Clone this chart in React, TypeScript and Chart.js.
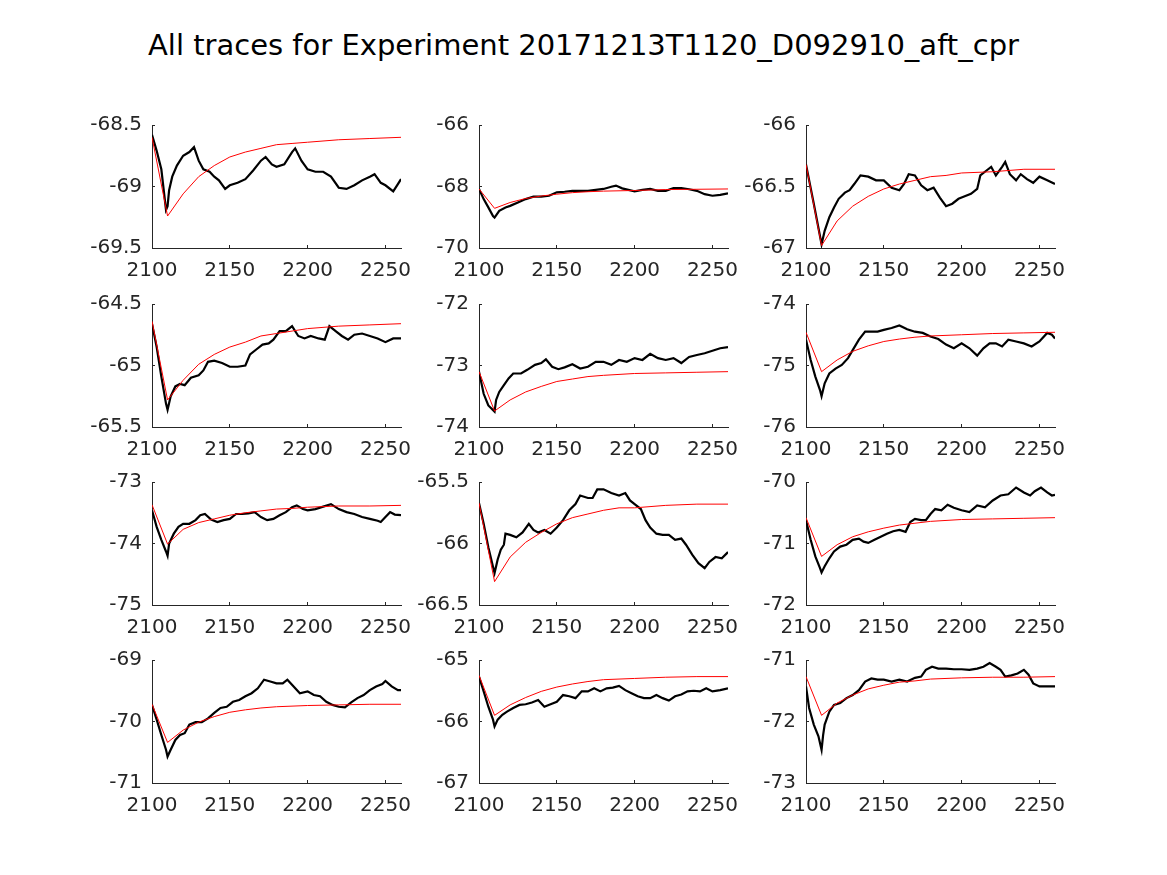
import React, { useEffect, useRef } from "react";
import { Chart, registerables } from "chart.js";

Chart.register(...registerables);
Chart.defaults.font.family = "'DejaVu Sans', sans-serif";

const TITLE = "All traces for Experiment 20171213T1120_D092910_aft_cpr";

const xTicks = [2100, 2150, 2200, 2250];
const xMin = 2100;
const xMax = 2260;

const yTicks1 = [-69.5, -69, -68.5];
const yTicks2 = [-70, -68, -66];
const yTicks3 = [-67, -66.5, -66];
const yTicks4 = [-65.5, -65, -64.5];
const yTicks5 = [-74, -73, -72];
const yTicks6 = [-76, -75, -74];
const yTicks7 = [-75, -74, -73];
const yTicks8 = [-66.5, -66, -65.5];
const yTicks9 = [-72, -71, -70];
const yTicks10 = [-71, -70, -69];
const yTicks11 = [-67, -66, -65];
const yTicks12 = [-73, -72, -71];

type P = [number, number];

const trace1: P[] = [[2100,-68.58],[2103,-68.71],[2106,-68.86],[2109,-69.19],[2110,-69.16],[2111,-69.03],[2113,-68.92],[2116,-68.83],[2120,-68.75],[2124,-68.72],[2127,-68.68],[2130,-68.79],[2133,-68.86],[2137,-68.88],[2140,-68.92],[2143,-68.95],[2147,-69.02],[2150,-68.99],[2155,-68.97],[2160,-68.94],[2165,-68.87],[2170,-68.79],[2173,-68.76],[2177,-68.82],[2180,-68.84],[2185,-68.82],[2190,-68.72],[2192,-68.69],[2196,-68.79],[2200,-68.86],[2205,-68.88],[2210,-68.88],[2215,-68.92],[2220,-69.01],[2225,-69.02],[2230,-68.99],[2235,-68.95],[2240,-68.92],[2243,-68.90],[2247,-68.97],[2250,-68.99],[2255,-69.04],[2258,-68.98],[2260,-68.94]];
const fit1: P[] = [[2100,-68.6],[2110,-69.24],[2120,-69.06],[2130,-68.92],[2140,-68.83],[2150,-68.76],[2160,-68.72],[2170,-68.69],[2180,-68.66],[2190,-68.65],[2200,-68.64],[2220,-68.62],[2240,-68.61],[2260,-68.6]];

const trace2: P[] = [[2100,-68.08],[2103,-68.41],[2106,-68.68],[2109,-68.96],[2110,-69.01],[2113,-68.79],[2117,-68.68],[2120,-68.63],[2125,-68.52],[2130,-68.41],[2135,-68.33],[2140,-68.33],[2145,-68.30],[2150,-68.19],[2155,-68.17],[2160,-68.14],[2170,-68.14],[2180,-68.08],[2185,-68.01],[2188,-67.97],[2192,-68.06],[2200,-68.16],[2205,-68.11],[2210,-68.08],[2215,-68.14],[2220,-68.14],[2225,-68.05],[2230,-68.05],[2235,-68.09],[2240,-68.14],[2245,-68.25],[2250,-68.30],[2255,-68.27],[2260,-68.22]];
const fit2: P[] = [[2100,-68.08],[2110,-68.71],[2120,-68.52],[2130,-68.39],[2140,-68.31],[2150,-68.25],[2160,-68.2],[2170,-68.17],[2180,-68.15],[2200,-68.13],[2220,-68.1],[2240,-68.09],[2260,-68.08]];

const trace3: P[] = [[2100,-66.32],[2105,-66.64],[2110,-66.97],[2112,-66.86],[2115,-66.75],[2118,-66.67],[2121,-66.60],[2125,-66.55],[2128,-66.53],[2131,-66.48],[2135,-66.41],[2140,-66.42],[2145,-66.45],[2150,-66.45],[2155,-66.51],[2160,-66.53],[2163,-66.48],[2166,-66.40],[2170,-66.41],[2174,-66.49],[2178,-66.53],[2182,-66.51],[2186,-66.59],[2190,-66.66],[2194,-66.64],[2198,-66.60],[2202,-66.58],[2206,-66.56],[2210,-66.52],[2212,-66.41],[2216,-66.37],[2219,-66.34],[2222,-66.41],[2226,-66.34],[2228,-66.30],[2231,-66.40],[2235,-66.45],[2238,-66.40],[2242,-66.44],[2246,-66.47],[2250,-66.42],[2255,-66.45],[2260,-66.48]];
const fit3: P[] = [[2100,-66.32],[2110,-66.98],[2120,-66.78],[2130,-66.66],[2140,-66.58],[2150,-66.52],[2160,-66.48],[2170,-66.45],[2180,-66.42],[2190,-66.41],[2200,-66.39],[2220,-66.38],[2240,-66.36],[2260,-66.36]];

const trace4: P[] = [[2100,-64.66],[2103,-64.85],[2106,-65.09],[2109,-65.31],[2110,-65.36],[2112,-65.25],[2115,-65.17],[2118,-65.15],[2121,-65.16],[2125,-65.10],[2130,-65.08],[2133,-65.04],[2136,-64.97],[2140,-64.96],[2145,-64.98],[2150,-65.01],[2155,-65.01],[2160,-65.00],[2163,-64.91],[2167,-64.87],[2171,-64.83],[2175,-64.82],[2178,-64.79],[2182,-64.72],[2186,-64.72],[2190,-64.68],[2194,-64.76],[2198,-64.78],[2202,-64.76],[2207,-64.78],[2211,-64.79],[2214,-64.68],[2218,-64.72],[2222,-64.76],[2226,-64.79],[2230,-64.75],[2235,-64.74],[2240,-64.76],[2245,-64.78],[2250,-64.81],[2255,-64.78],[2260,-64.78]];
const fit4: P[] = [[2100,-64.64],[2110,-65.28],[2120,-65.12],[2130,-64.99],[2140,-64.91],[2150,-64.85],[2160,-64.81],[2170,-64.76],[2180,-64.74],[2190,-64.72],[2200,-64.7],[2220,-64.68],[2240,-64.67],[2260,-64.66]];

const trace5: P[] = [[2100,-73.10],[2103,-73.46],[2106,-73.65],[2110,-73.75],[2111,-73.56],[2113,-73.43],[2116,-73.32],[2119,-73.21],[2122,-73.13],[2127,-73.13],[2131,-73.07],[2136,-72.99],[2140,-72.96],[2143,-72.90],[2147,-73.02],[2151,-73.06],[2155,-73.03],[2160,-72.98],[2165,-73.05],[2170,-73.02],[2175,-72.94],[2180,-72.94],[2185,-72.99],[2190,-72.91],[2195,-72.94],[2200,-72.88],[2205,-72.91],[2210,-72.81],[2215,-72.88],[2220,-72.91],[2225,-72.88],[2230,-72.96],[2235,-72.86],[2240,-72.83],[2245,-72.80],[2250,-72.76],[2255,-72.72],[2260,-72.70]];
const fit5: P[] = [[2100,-73.1],[2110,-73.74],[2120,-73.56],[2130,-73.43],[2140,-73.34],[2150,-73.26],[2160,-73.22],[2170,-73.18],[2180,-73.16],[2200,-73.13],[2220,-73.12],[2240,-73.11],[2260,-73.1]];

const trace6: P[] = [[2100,-74.58],[2103,-74.91],[2106,-75.18],[2109,-75.40],[2110,-75.50],[2112,-75.29],[2115,-75.13],[2119,-75.05],[2123,-74.99],[2127,-74.88],[2130,-74.75],[2134,-74.58],[2138,-74.45],[2142,-74.45],[2146,-74.45],[2150,-74.42],[2155,-74.39],[2160,-74.35],[2165,-74.41],[2170,-74.45],[2175,-74.47],[2180,-74.53],[2185,-74.57],[2190,-74.66],[2195,-74.72],[2200,-74.64],[2205,-74.72],[2210,-74.84],[2214,-74.72],[2218,-74.64],[2222,-74.64],[2226,-74.69],[2230,-74.58],[2235,-74.61],[2240,-74.64],[2245,-74.69],[2250,-74.61],[2255,-74.47],[2258,-74.50],[2260,-74.56]];
const fit6: P[] = [[2100,-74.46],[2110,-75.1],[2120,-74.91],[2130,-74.77],[2140,-74.68],[2150,-74.61],[2160,-74.57],[2170,-74.54],[2180,-74.52],[2200,-74.5],[2220,-74.48],[2240,-74.47],[2260,-74.46]];

const trace7: P[] = [[2100,-73.46],[2103,-73.73],[2106,-73.94],[2109,-74.13],[2110,-74.20],[2111,-74.00],[2114,-73.84],[2117,-73.73],[2120,-73.68],[2124,-73.68],[2128,-73.62],[2131,-73.54],[2134,-73.52],[2138,-73.61],[2142,-73.65],[2146,-73.62],[2150,-73.60],[2154,-73.52],[2158,-73.52],[2162,-73.51],[2166,-73.49],[2170,-73.57],[2174,-73.62],[2178,-73.60],[2182,-73.54],[2186,-73.49],[2190,-73.41],[2193,-73.38],[2197,-73.44],[2200,-73.46],[2205,-73.44],[2210,-73.40],[2215,-73.36],[2220,-73.44],[2225,-73.49],[2230,-73.52],[2235,-73.57],[2240,-73.60],[2245,-73.63],[2247,-73.65],[2250,-73.57],[2253,-73.49],[2256,-73.53],[2260,-73.54]];
const fit7: P[] = [[2100,-73.37],[2110,-74.01],[2120,-73.77],[2130,-73.66],[2140,-73.6],[2150,-73.54],[2160,-73.5],[2170,-73.47],[2180,-73.44],[2190,-73.43],[2200,-73.41],[2220,-73.39],[2240,-73.39],[2260,-73.38]];

const trace8: P[] = [[2100,-65.67],[2103,-65.84],[2106,-66.03],[2109,-66.19],[2110,-66.24],[2112,-66.13],[2114,-66.05],[2116,-66.01],[2117,-65.92],[2120,-65.93],[2124,-65.95],[2128,-65.91],[2132,-65.84],[2135,-65.89],[2138,-65.91],[2142,-65.89],[2146,-65.92],[2150,-65.87],[2154,-65.81],[2158,-65.73],[2162,-65.68],[2165,-65.61],[2170,-65.63],[2173,-65.63],[2176,-65.56],[2180,-65.56],[2185,-65.59],[2190,-65.61],[2194,-65.59],[2197,-65.65],[2200,-65.68],[2204,-65.72],[2207,-65.81],[2210,-65.87],[2214,-65.92],[2218,-65.93],[2222,-65.93],[2226,-65.97],[2230,-65.96],[2233,-66.01],[2237,-66.09],[2241,-66.16],[2245,-66.20],[2248,-66.15],[2252,-66.11],[2256,-66.12],[2260,-66.07]];
const fit8: P[] = [[2100,-65.67],[2110,-66.31],[2120,-66.11],[2130,-65.99],[2140,-65.91],[2150,-65.84],[2160,-65.79],[2170,-65.76],[2180,-65.73],[2190,-65.71],[2200,-65.71],[2220,-65.69],[2240,-65.68],[2260,-65.68]];

const trace9: P[] = [[2100,-70.62],[2103,-70.94],[2106,-71.21],[2109,-71.40],[2110,-71.47],[2112,-71.37],[2115,-71.24],[2118,-71.13],[2122,-71.05],[2126,-71.02],[2130,-70.94],[2134,-70.92],[2137,-70.97],[2140,-70.99],[2144,-70.94],[2148,-70.89],[2152,-70.84],[2156,-70.80],[2160,-70.78],[2164,-70.81],[2167,-70.65],[2170,-70.60],[2174,-70.62],[2177,-70.62],[2180,-70.52],[2183,-70.44],[2187,-70.46],[2191,-70.37],[2195,-70.42],[2200,-70.46],[2205,-70.49],[2210,-70.38],[2215,-70.41],[2220,-70.30],[2225,-70.22],[2230,-70.20],[2235,-70.09],[2240,-70.17],[2244,-70.22],[2247,-70.15],[2251,-70.09],[2255,-70.17],[2258,-70.22],[2260,-70.21]];
const fit9: P[] = [[2100,-70.58],[2110,-71.21],[2120,-71.02],[2130,-70.89],[2140,-70.81],[2150,-70.75],[2160,-70.7],[2170,-70.67],[2180,-70.64],[2200,-70.61],[2220,-70.6],[2240,-70.59],[2260,-70.58]];

const trace10: P[] = [[2100,-69.73],[2103,-69.97],[2106,-70.22],[2109,-70.46],[2110,-70.57],[2112,-70.46],[2115,-70.30],[2118,-70.22],[2121,-70.19],[2124,-70.05],[2128,-70.01],[2132,-70.01],[2136,-69.95],[2140,-69.86],[2144,-69.78],[2148,-69.76],[2152,-69.68],[2156,-69.65],[2160,-69.59],[2164,-69.54],[2168,-69.46],[2172,-69.32],[2176,-69.35],[2180,-69.38],[2184,-69.38],[2187,-69.32],[2191,-69.43],[2195,-69.54],[2200,-69.51],[2204,-69.57],[2208,-69.59],[2212,-69.68],[2216,-69.73],[2220,-69.76],[2224,-69.77],[2228,-69.69],[2232,-69.62],[2236,-69.57],[2240,-69.49],[2244,-69.43],[2248,-69.39],[2250,-69.34],[2254,-69.43],[2258,-69.49],[2260,-69.49]];
const fit10: P[] = [[2100,-69.72],[2110,-70.34],[2120,-70.14],[2130,-70.01],[2140,-69.92],[2150,-69.85],[2160,-69.81],[2170,-69.78],[2180,-69.76],[2200,-69.74],[2220,-69.73],[2240,-69.72],[2260,-69.72]];

const trace11: P[] = [[2100,-65.27],[2103,-65.51],[2106,-65.76],[2109,-65.97],[2110,-66.08],[2112,-65.97],[2115,-65.89],[2118,-65.84],[2122,-65.78],[2126,-65.73],[2130,-65.72],[2134,-65.69],[2138,-65.65],[2142,-65.76],[2146,-65.72],[2150,-65.68],[2154,-65.57],[2158,-65.59],[2162,-65.62],[2166,-65.51],[2170,-65.51],[2174,-65.46],[2178,-65.51],[2182,-65.46],[2186,-65.45],[2190,-65.42],[2194,-65.49],[2198,-65.54],[2202,-65.59],[2206,-65.62],[2210,-65.62],[2214,-65.57],[2218,-65.62],[2222,-65.66],[2226,-65.59],[2230,-65.56],[2234,-65.51],[2238,-65.50],[2242,-65.51],[2246,-65.46],[2250,-65.51],[2255,-65.49],[2260,-65.46]];
const fit11: P[] = [[2100,-65.25],[2110,-65.9],[2120,-65.73],[2130,-65.61],[2140,-65.51],[2150,-65.44],[2160,-65.39],[2170,-65.35],[2180,-65.32],[2200,-65.3],[2220,-65.28],[2240,-65.27],[2260,-65.27]];

const trace12: P[] = [[2100,-71.43],[2102,-71.78],[2105,-72.05],[2108,-72.24],[2110,-72.46],[2111,-72.22],[2112,-72.05],[2115,-71.84],[2118,-71.73],[2122,-71.70],[2126,-71.62],[2130,-71.57],[2134,-71.49],[2138,-71.35],[2142,-71.30],[2146,-71.32],[2150,-71.32],[2155,-71.35],[2160,-71.32],[2165,-71.35],[2170,-71.29],[2174,-71.27],[2177,-71.16],[2181,-71.11],[2185,-71.14],[2190,-71.14],[2195,-71.15],[2200,-71.15],[2205,-71.16],[2210,-71.14],[2214,-71.11],[2218,-71.05],[2222,-71.11],[2225,-71.16],[2228,-71.27],[2232,-71.25],[2236,-71.22],[2240,-71.16],[2243,-71.24],[2246,-71.38],[2250,-71.43],[2255,-71.43],[2260,-71.43]];
const fit12: P[] = [[2100,-71.27],[2110,-71.9],[2120,-71.7],[2130,-71.57],[2140,-71.47],[2150,-71.41],[2160,-71.36],[2170,-71.34],[2180,-71.31],[2200,-71.29],[2220,-71.28],[2240,-71.28],[2260,-71.27]];

const traces = [trace1, trace2, trace3, trace4, trace5, trace6, trace7, trace8, trace9, trace10, trace11, trace12];
const fits = [fit1, fit2, fit3, fit4, fit5, fit6, fit7, fit8, fit9, fit10, fit11, fit12];
const yTickSets = [yTicks1, yTicks2, yTicks3, yTicks4, yTicks5, yTicks6, yTicks7, yTicks8, yTicks9, yTicks10, yTicks11, yTicks12];

// layout (pixels)
const COL_LEFT = [152, 479, 806];
const ROW_TOP = [125, 304, 482, 660];
const AX_W = 249;
const AX_H = 123;
const PAD_L = 80;
const PAD_T = 15;
const PAD_R = 15;
const PAD_B = 40;
const AXIS_COLOR = "#262626";

function Panel({ idx }: { idx: number }) {
  const ref = useRef<HTMLCanvasElement>(null);
  const yTicks = yTickSets[idx];
  useEffect(() => {
    const gridOpts = {
      display: true,
      drawOnChartArea: false,
      drawTicks: true,
      tickLength: -3,
      color: AXIS_COLOR,
      lineWidth: 1,
    };
    const chart = new Chart(ref.current!, {
      type: "line",
      data: {
        datasets: [
          {
            data: fits[idx].map(([x, y]) => ({ x, y })),
            borderColor: "#ff0000",
            borderWidth: 1,
            pointRadius: 0,
            tension: 0,
          },
          {
            data: traces[idx].map(([x, y]) => ({ x, y })),
            borderColor: "#000000",
            borderWidth: 2.2,
            pointRadius: 0,
            tension: 0,
          },
        ],
      },
      options: {
        animation: false,
        responsive: false,
        maintainAspectRatio: false,
        events: [],
        layout: { padding: { left: 0, top: PAD_T, right: PAD_R, bottom: 0 } },
        plugins: { legend: { display: false }, tooltip: { enabled: false } },
        scales: {
          x: {
            type: "linear",
            min: xMin,
            max: xMax,
            afterBuildTicks: (s: any) => {
              s.ticks = xTicks.map((v) => ({ value: v }));
            },
            afterFit: (s: any) => {
              s.height = PAD_B;
              s.paddingLeft = 0;
              s.paddingRight = 0;
              s.paddingTop = 0;
              s.paddingBottom = 0;
            },
            grid: gridOpts,
            border: { display: true, color: AXIS_COLOR, width: 1 },
            ticks: {
              color: AXIS_COLOR,
              font: { size: 20 },
              padding: 14,
              maxRotation: 0,
              autoSkip: false,
              callback: (v: any) => String(v),
            },
          },
          y: {
            type: "linear",
            min: yTicks[0],
            max: yTicks[yTicks.length - 1],
            afterBuildTicks: (s: any) => {
              s.ticks = yTicks.map((v) => ({ value: v }));
            },
            afterFit: (s: any) => {
              s.width = PAD_L;
              s.paddingLeft = 0;
              s.paddingRight = 0;
              s.paddingTop = 0;
              s.paddingBottom = 0;
            },
            grid: gridOpts,
            border: { display: true, color: AXIS_COLOR, width: 1 },
            ticks: {
              color: AXIS_COLOR,
              font: { size: 20 },
              padding: 13,
              autoSkip: false,
              callback: (v: any) => String(v),
            },
          },
        },
      },
    } as any);
    return () => chart.destroy();
  }, [idx]);
  const col = idx % 3;
  const row = Math.floor(idx / 3);
  return (
    <canvas
      ref={ref}
      width={AX_W + PAD_L + PAD_R}
      height={AX_H + PAD_T + PAD_B}
      style={{
        position: "absolute",
        left: COL_LEFT[col] - PAD_L,
        top: ROW_TOP[row] - PAD_T,
        width: AX_W + PAD_L + PAD_R,
        height: AX_H + PAD_T + PAD_B,
      }}
    />
  );
}

export default function App() {
  return (
    <div
      style={{
        position: "absolute",
        left: 0,
        top: 0,
        width: 1167,
        height: 875,
        background: "#ffffff",
        overflow: "hidden",
      }}
    >
      <div
        style={{
          position: "absolute",
          left: 0,
          top: 31,
          width: 1167,
          textAlign: "center",
          fontFamily: "'DejaVu Sans', sans-serif",
          fontSize: 29,
          lineHeight: 1,
          color: "#000000",
          whiteSpace: "nowrap",
        }}
      >
        {TITLE}
      </div>
      {traces.map((_, i) => (
        <Panel key={i} idx={i} />
      ))}
    </div>
  );
}
